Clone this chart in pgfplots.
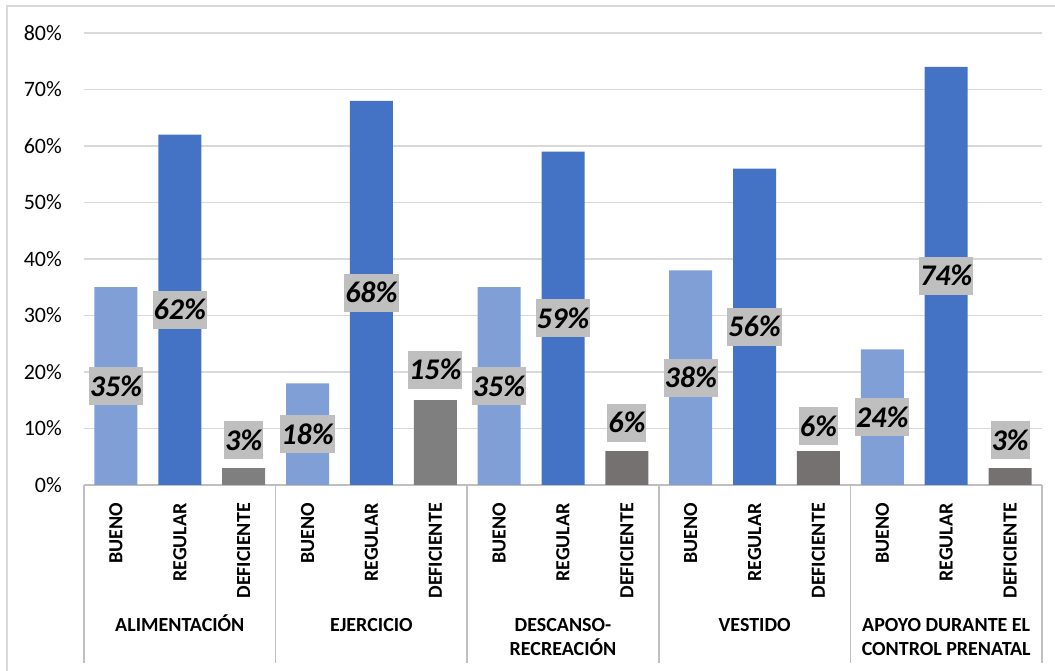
\documentclass[border=0pt]{standalone}
\usepackage{pgfplots}
\pgfplotsset{compat=1.18}
\usepackage{fontspec}
\setmainfont{Carlito}
\definecolor{cBueno}{HTML}{7F9FD6}
\definecolor{cReg}{HTML}{4472C4}
\definecolor{cDef}{HTML}{7F7F7F}
\definecolor{cDefB}{HTML}{767171}
\definecolor{gridc}{HTML}{D9D9D9}
\definecolor{axl}{HTML}{BFBFBF}
\definecolor{labbg}{HTML}{BFBFBF}
\begin{document}
\begin{tikzpicture}[x=1pt,y=1pt]
\useasboundingbox (0,0) rectangle (1055,671);
\draw[gridc, line width=1.5pt] (7,0) -- (7,665) -- (1055,665);
\begin{axis}[
  at={(84pt,186pt)}, anchor=south west,
  scale only axis, width=958pt, height=452pt,
  xmin=-0.5, xmax=14.5, ymin=0, ymax=80,
  clip=false,
  /pgf/number format/assume math mode=true,
  axis x line*=bottom, axis y line*=left,
  x axis line style={-, draw=axl, line width=1.5pt},
  y axis line style={draw=none},
  major tick length=0pt,
  ymajorgrids, grid style={gridc, line width=1.3pt},
  ytick={0,10,...,80},
  yticklabel={\pgfmathprintnumber{\tick}\%},
  yticklabel style={font=\fontsize{22}{26}\selectfont, anchor=east, inner sep=0pt, text=black},
  yticklabel shift=22pt,
  xtick={0,...,14},
  xticklabels={BUENO,REGULAR,DEFICIENTE,BUENO,REGULAR,DEFICIENTE,BUENO,REGULAR,DEFICIENTE,BUENO,REGULAR,DEFICIENTE,BUENO,REGULAR,DEFICIENTE},
  xticklabel style={font=\bfseries\fontsize{20}{24}\selectfont, rotate=90, anchor=east, inner sep=0pt, text=black},
  xticklabel shift=18pt,
  ybar, bar width=43pt, bar shift=0pt,
]
\addplot[fill=cBueno, draw=none] coordinates {(0,35) (3,18) (6,35) (9,38) (12,24)};
\addplot[fill=cReg, draw=none] coordinates {(1,62) (4,68) (7,59) (10,56) (13,74)};
\addplot[fill=cDef, draw=none] coordinates {(2,3) (5,15)};
\addplot[fill=cDefB, draw=none] coordinates {(8,6) (11,6) (14,3)};
\addplot[only marks, mark=none, point meta=explicit,
  nodes near coords={\pgfmathprintnumber{\pgfplotspointmeta}\%},
  nodes near coords align={center},
  every node near coord/.style={fill=labbg, text=black, anchor=center,
    font=\bfseries\itshape\fontsize{30}{36}\selectfont,
    inner xsep=1pt, inner ysep=9pt, text height=20pt, text depth=0pt}]
  table[x=x, y=ly, meta=v] {
x ly v
0 17.5 35
1 31 62
2 7.9 3
3 9 18
4 34 68
5 20.4 15
6 17.5 35
7 29.5 59
8 11.0 6
9 19 38
10 28 56
11 10.4 6
12 12 24
13 37 74
14 7.9 3
};
\pgfplotsinvokeforeach{-0.5,2.5,5.5,8.5,11.5,14.5}{
  \draw[axl, line width=1.5pt] (axis cs:#1,0) -- ([yshift=-178pt]axis cs:#1,0);
}
\end{axis}
\begin{scope}[every node/.style={font=\bfseries\fontsize{20}{24}\selectfont, anchor=base, inner sep=0pt}]
\node at (179.8,39.5) {ALIMENTACIÓN};
\node at (371.4,39.5) {EJERCICIO};
\node at (563,39.5) {DESCANSO-};
\node at (563,15.5) {RECREACIÓN};
\node at (754.6,39.5) {VESTIDO};
\node at (946.2,39.5) {APOYO DURANTE EL};
\node at (946.2,15.5) {CONTROL PRENATAL};
\end{scope}
\end{tikzpicture}
\end{document}
